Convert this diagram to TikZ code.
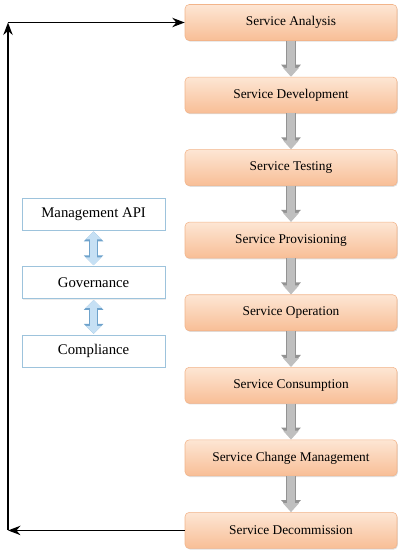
\documentclass[tikz,border=0pt]{standalone}
\usepackage{fontspec}
\setmainfont{Liberation Serif}
\usepackage{xcolor}
\usetikzlibrary{positioning,arrows.meta,shadows}

\definecolor{boxtop}{HTML}{FDE6D4}
\definecolor{boxbot}{HTML}{F8BE96}
\definecolor{boxline}{HTML}{F2B48A}
\definecolor{apiline}{HTML}{9DC3DC}
\definecolor{apifill}{HTML}{C6E0F4}
\definecolor{apiedge}{HTML}{6FA3CC}

\begin{document}
\begin{tikzpicture}[node distance=0.9cm, >=Stealth, font=\fontsize{9.5}{11}\selectfont]
\tikzstyle{phase}=[
    draw=boxline, rounded corners=3pt,
    align=center,
    minimum width=5.3cm,
    minimum height=0.9cm,
    top color=boxtop, bottom color=boxbot,
    drop shadow={opacity=0.25, shadow xshift=0.6pt, shadow yshift=-0.8pt}
]
\tikzstyle{side}=[
    draw=apiline,
    align=center,
    minimum width=3.575cm,
    minimum height=0.8cm,
    fill=white,
    font=\fontsize{10.5}{12}\selectfont,
    drop shadow={opacity=0.15, shadow xshift=0.6pt, shadow yshift=-0.8pt}
]
\tikzstyle{step arrow}=[
    preaction={draw=gray!85, line width=6.6pt, shorten >=0.6pt,
        -{Triangle[length=8pt, width=13.6pt, fill=gray!85]}},
    draw=gray!50, line width=5pt,
    -{Triangle[length=6.4pt, width=11pt, fill=gray!50]}
]
\tikzstyle{link arrow}=[
    preaction={draw=apiedge, line width=6.8pt,
        {Triangle[length=7pt, width=13.5pt, fill=apiedge]}-{Triangle[length=7pt, width=13.5pt, fill=apiedge]}},
    draw=apifill, line width=5.2pt, shorten >=0.8pt, shorten <=0.8pt,
    {Triangle[length=5.6pt, width=11pt, fill=apifill]}-{Triangle[length=5.6pt, width=11pt, fill=apifill]}
]
\useasboundingbox (0,0) rectangle (10.1,-13.875);

\node[phase] (ana) at (7.275,-0.5625) {Service Analysis};
\node[phase, below=of ana] (dev) {Service Development};
\node[phase, below=of dev] (test) {Service Testing};
\node[phase, below=of test] (prov) {Service Provisioning};
\node[phase, below=of prov] (oper) {Service Operation};
\node[phase, below=of oper] (cons) {Service Consumption};
\node[phase, below=of cons] (chg) {Service Change Management};
\node[phase, below=of chg] (decom) {Service Decommission};

\node[side] (api) at (2.34,-5.35) {Management API};
\node[side, below=of api] (gov) {Governance};
\node[side, below=of gov] (comp) {Compliance};

\draw[step arrow] (ana) -- (dev);
\draw[step arrow] (dev) -- (test);
\draw[step arrow] (test) -- (prov);
\draw[step arrow] (prov) -- (oper);
\draw[step arrow] (oper) -- (cons);
\draw[step arrow] (cons) -- (chg);
\draw[step arrow] (chg) -- (decom);

\draw[link arrow] (api) -- (gov);
\draw[link arrow] (gov) -- (comp);

% feedback loop
\coordinate (lowleft) at (0.2,0 |- decom.west);
\coordinate (upleft) at (0.2,0 |- ana.west);
\draw[->, line width=1.3pt] (decom.west) -- (lowleft);
\draw[->, line width=1.3pt] (lowleft) -- (upleft);
\draw[->, line width=1.3pt] (upleft) -- (ana.west);
\end{tikzpicture}
\end{document}
